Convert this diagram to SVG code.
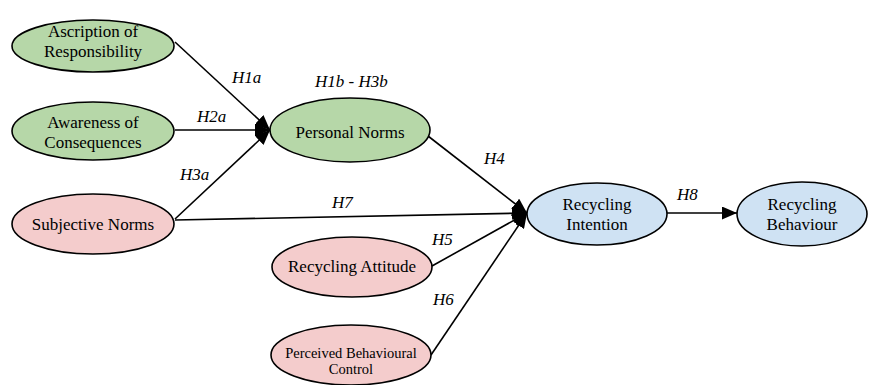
<svg xmlns="http://www.w3.org/2000/svg" width="870" height="385" viewBox="0 0 870 385">
<style>
.node{stroke:#000;stroke-width:1.6}
.g{fill:#b6d7a8}.p{fill:#f4cccc}.b{fill:#cfe2f3}
text{font-family:'Liberation Serif','Times New Roman',Tinos,'DejaVu Serif',serif}
.t{font-size:17px;fill:#000;text-anchor:middle}
.s{font-size:14.5px}
.lbl{font-size:17px;font-style:italic;fill:#000}
.c{stroke:#000;stroke-width:1.6;fill:none;marker-end:url(#ah)}
</style>
<defs>
<marker id="ah" viewBox="0 0 15 13" refX="15" refY="6.5" markerWidth="15" markerHeight="13" markerUnits="userSpaceOnUse" orient="auto">
<path d="M0,0 L15,6.5 L0,13 z" fill="#000"/>
</marker>
</defs>
<g id="connectors">
<line class="c" x1="175" y1="42" x2="270" y2="130"/>
<line class="c" x1="175" y1="130" x2="270" y2="130"/>
<line class="c" x1="175" y1="219" x2="270" y2="130"/>
<line class="c" x1="428" y1="136" x2="527" y2="213"/>
<line class="c" x1="175" y1="220" x2="527" y2="213"/>
<line class="c" x1="432" y1="266" x2="527" y2="213"/>
<line class="c" x1="431" y1="355" x2="527" y2="213"/>
<line class="c" x1="667" y1="213" x2="737" y2="213"/>
</g>
<g id="labels" font-family="Liberation Serif, serif">
<text class="lbl" x="232" y="83">H1a</text>
<text class="lbl" x="197" y="122">H2a</text>
<text class="lbl" x="180" y="180">H3a</text>
<text class="lbl" x="315" y="87">H1b - H3b</text>
<text class="lbl" x="484" y="164">H4</text>
<text class="lbl" x="332" y="208">H7</text>
<text class="lbl" x="432" y="245">H5</text>
<text class="lbl" x="433" y="305">H6</text>
<text class="lbl" x="677" y="200">H8</text>
</g>
<g id="ascription">
<ellipse class="node g" cx="93" cy="46" rx="81" ry="26"/>
<text class="t" x="93" y="37">Ascription of</text>
<text class="t" x="93" y="57">Responsibility</text>
</g>
<g id="awareness">
<ellipse class="node g" cx="93" cy="131" rx="81" ry="29"/>
<text class="t" x="93" y="128">Awareness of</text>
<text class="t" x="93" y="148">Consequences</text>
</g>
<g id="subjective">
<ellipse class="node p" cx="93" cy="224" rx="81" ry="30"/>
<text class="t" x="93" y="230">Subjective Norms</text>
</g>
<g id="personal">
<ellipse class="node g" cx="350" cy="130" rx="80" ry="32"/>
<text class="t" x="350" y="138">Personal Norms</text>
</g>
<g id="attitude">
<ellipse class="node p" cx="352" cy="267" rx="80" ry="30"/>
<text class="t" x="352" y="272">Recycling Attitude</text>
</g>
<g id="pbc">
<ellipse class="node p" cx="351" cy="355" rx="80" ry="30"/>
<text class="t s" x="351" y="358">Perceived Behavioural</text>
<text class="t s" x="351" y="374">Control</text>
</g>
<g id="intention">
<ellipse class="node b" cx="597" cy="214" rx="70" ry="31"/>
<text class="t" x="597" y="210">Recycling</text>
<text class="t" x="597" y="230">Intention</text>
</g>
<g id="behaviour">
<ellipse class="node b" cx="802" cy="214" rx="65" ry="32"/>
<text class="t" x="802" y="210">Recycling</text>
<text class="t" x="802" y="230">Behaviour</text>
</g>
</svg>
